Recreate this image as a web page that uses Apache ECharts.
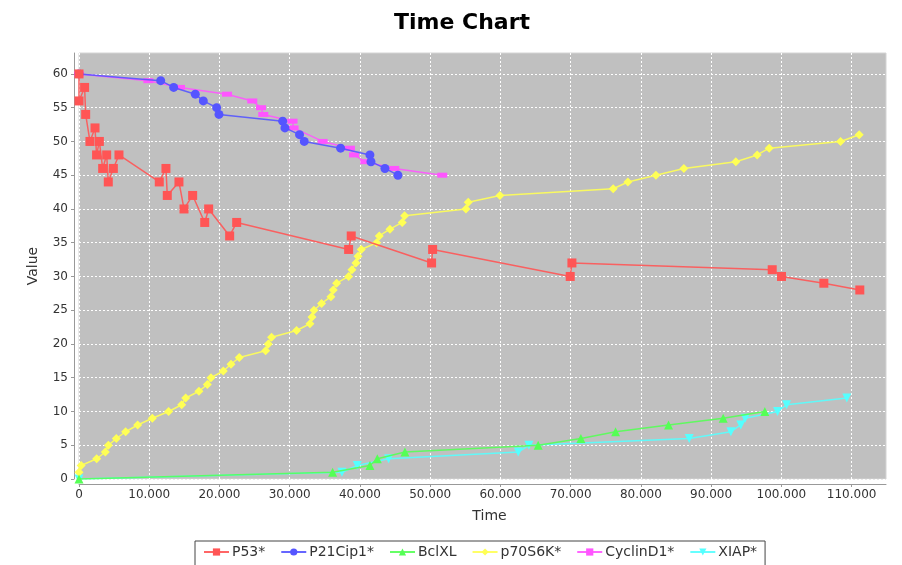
<!DOCTYPE html>
<html>
<head>
<meta charset="utf-8">
<title>Time Chart</title>
<script src="https://cdn.jsdelivr.net/npm/echarts@6/dist/echarts.min.js"></script>
<style>
  html, body { margin: 0; padding: 0; background: #ffffff; }
  #chart { width: 902px; height: 565px; }
</style>
</head>
<body>
<div id="chart"></div>
<script>
// Measured concentrations over time, one [time, value] pair per sample.
const p53 = [
  [0, 60], [0, 56], [800, 58], [950, 54], [1560, 50], [2280, 52], [2500, 48],
  [2900, 50], [3370, 46], [3940, 48], [4170, 44], [4890, 46], [5690, 48],
  [11430, 44], [12380, 46], [12570, 42], [14230, 44], [14950, 40], [16180, 42],
  [17900, 38], [18460, 40], [21450, 36], [22450, 38], [38390, 34], [38760, 36],
  [50200, 32], [50350, 34], [69940, 30], [70180, 32], [98700, 31], [100020, 30],
  [106050, 29], [111170, 28]
];
const p21Cip1 = [
  [0, 60], [11630, 59], [13480, 58], [16560, 57], [17700, 56], [19600, 55],
  [19930, 54], [29000, 53], [29320, 52], [31400, 51], [32070, 50], [37250, 49],
  [41420, 48], [41570, 47], [43560, 46], [45410, 45]
];
const bclXL = [
  [0, 0], [36110, 1], [41420, 2], [42470, 3], [46410, 4], [65380, 5],
  [71460, 6], [76400, 7], [83940, 8], [91720, 9], [97650, 10]
];
const p70S6K = [
  [0, 1], [300, 2], [2520, 3], [3750, 4], [4180, 5], [5310, 6], [6640, 7],
  [8350, 8], [10440, 9], [12760, 10], [14620, 11], [15190, 12], [17080, 13],
  [18270, 14], [18790, 15], [20550, 16], [21640, 17], [22820, 18], [26570, 19],
  [26950, 20], [27420, 21], [30980, 22], [32880, 23], [33170, 24], [33450, 25],
  [34540, 26], [35870, 27], [36200, 28], [36680, 29], [38390, 30], [38860, 31],
  [39430, 32], [39720, 33], [40190, 34], [42380, 35], [42750, 36], [44270, 37],
  [46020, 38], [46360, 39], [55090, 40], [55420, 41], [59930, 42], [76060, 43],
  [78150, 44], [82140, 45], [86120, 46], [93520, 47], [96560, 48], [98270, 49],
  [108430, 50], [111080, 51]
];
const cyclinD1 = [
  [0, 60], [9870, 59], [14380, 58], [21070, 57], [24670, 56], [25910, 55],
  [26240, 54], [30400, 53], [30550, 52], [34690, 50], [38580, 49], [39150, 48],
  [40760, 47], [44890, 46], [51720, 45]
];
const xiap = [
  [0, 0], [37440, 1], [39620, 2], [44080, 3], [62540, 4], [64050, 5],
  [86880, 6], [92810, 7], [94230, 8], [94850, 9], [99460, 10], [100740, 11],
  [109320, 12]
];

const seriesNames = ['P53*', 'P21Cip1*', 'BclXL', 'p70S6K*', 'CyclinD1*', 'XIAP*'];
const seriesData = [p53, p21Cip1, bclXL, p70S6K, cyclinD1, xiap];

const timeTicks = [0, 10000, 20000, 30000, 40000, 50000, 60000, 70000, 80000, 90000, 100000, 110000];
const valueTicks = [0, 5, 10, 15, 20, 25, 30, 35, 40, 45, 50, 55, 60];

const colors = ['#ff5555', '#5555ff', '#55ff55', '#ffff55', '#ff55ff', '#55ffff'];
const symbols = ['rect', 'circle', 'triangle', 'diamond', 'rect', 'triangle'];
const symbolSizes = [9, 9, 9, 9, [10, 5], 9];
const symbolRotates = [0, 0, 0, 0, 0, 180];

// Thousands separated with a dot: 10000 -> "10.000"
function fmtTime(v) {
  return String(Math.round(v)).replace(/\B(?=(\d{3})+(?!\d))/g, '.');
}

const series = seriesNames.map((name, i) => ({
  name: name,
  type: 'line',
  data: seriesData[i],
  symbol: symbols[i],
  symbolSize: symbolSizes[i],
  symbolRotate: symbolRotates[i],
  showAllSymbol: true,
  z: 10 - i,
  itemStyle: { color: colors[i], opacity: 1 },
  lineStyle: { color: colors[i], width: 1.5, opacity: 0.9 },
  emphasis: { disabled: true },
  animation: false
}));

const chart = echarts.init(document.getElementById('chart'), null, { renderer: 'canvas' });

chart.setOption({
  backgroundColor: '#ffffff',
  animation: false,
  textStyle: { fontFamily: 'DejaVu Sans' },
  title: {
    text: 'Time Chart',
    left: 462,
    textAlign: 'center',
    top: 12,
    padding: 0,
    textStyle: { fontFamily: 'DejaVu Sans', fontWeight: 'bold', fontSize: 22, color: '#000000' }
  },
  grid: {
    left: 79,
    right: 16,
    top: 53,
    bottom: 86,
    show: true,
    backgroundColor: '#c0c0c0',
    borderColor: '#d4d4d4',
    borderWidth: 1,
    containLabel: false
  },
  legend: {
    data: seriesNames,
    left: 195,
    top: 541,
    orient: 'horizontal',
    itemWidth: 25,
    itemHeight: 9,
    itemGap: 15,
    padding: [4, 8, 12, 8],
    borderColor: '#444444',
    borderWidth: 1,
    backgroundColor: '#ffffff',
    selectedMode: false,
    textStyle: { fontFamily: 'DejaVu Sans', fontSize: 14, color: '#333333', padding: [0, 0, 0, -2] }
  },
  xAxis: {
    type: 'value',
    name: 'Time',
    nameLocation: 'middle',
    nameGap: 25,
    nameTextStyle: { fontFamily: 'DejaVu Sans', fontSize: 14, color: '#333333', padding: [0, 0, 0, 14] },
    min: 0,
    max: 114900,
    interval: 10000,
    offset: 5,
    axisLine: { show: true, onZero: false, lineStyle: { color: '#999999', width: 1 } },
    axisTick: { show: true, inside: false, length: 3, customValues: timeTicks, lineStyle: { color: '#999999' } },
    axisLabel: {
      show: true,
      margin: 5,
      customValues: timeTicks,
      fontFamily: 'DejaVu Sans',
      fontSize: 12,
      color: '#333333',
      formatter: v => fmtTime(v)
    },
    splitLine: { show: true, lineStyle: { color: '#ffffff', type: [2, 2], width: 1 } }
  },
  yAxis: {
    type: 'value',
    name: 'Value',
    nameLocation: 'middle',
    nameGap: 34,
    nameRotate: 90,
    nameTextStyle: { fontFamily: 'DejaVu Sans', fontSize: 14, color: '#333333' },
    min: 0,
    max: 63.1,
    interval: 5,
    offset: 5,
    axisLine: { show: true, onZero: false, lineStyle: { color: '#999999', width: 1 } },
    axisTick: { show: true, inside: false, length: 3, customValues: valueTicks, lineStyle: { color: '#999999' } },
    axisLabel: {
      show: true,
      margin: 6,
      customValues: valueTicks,
      fontFamily: 'DejaVu Sans',
      fontSize: 12,
      color: '#333333',
      formatter: v => String(v)
    },
    splitLine: { show: true, lineStyle: { color: '#ffffff', type: [2, 2], width: 1 } }
  },
  series: series
});
</script>
</body>
</html>
